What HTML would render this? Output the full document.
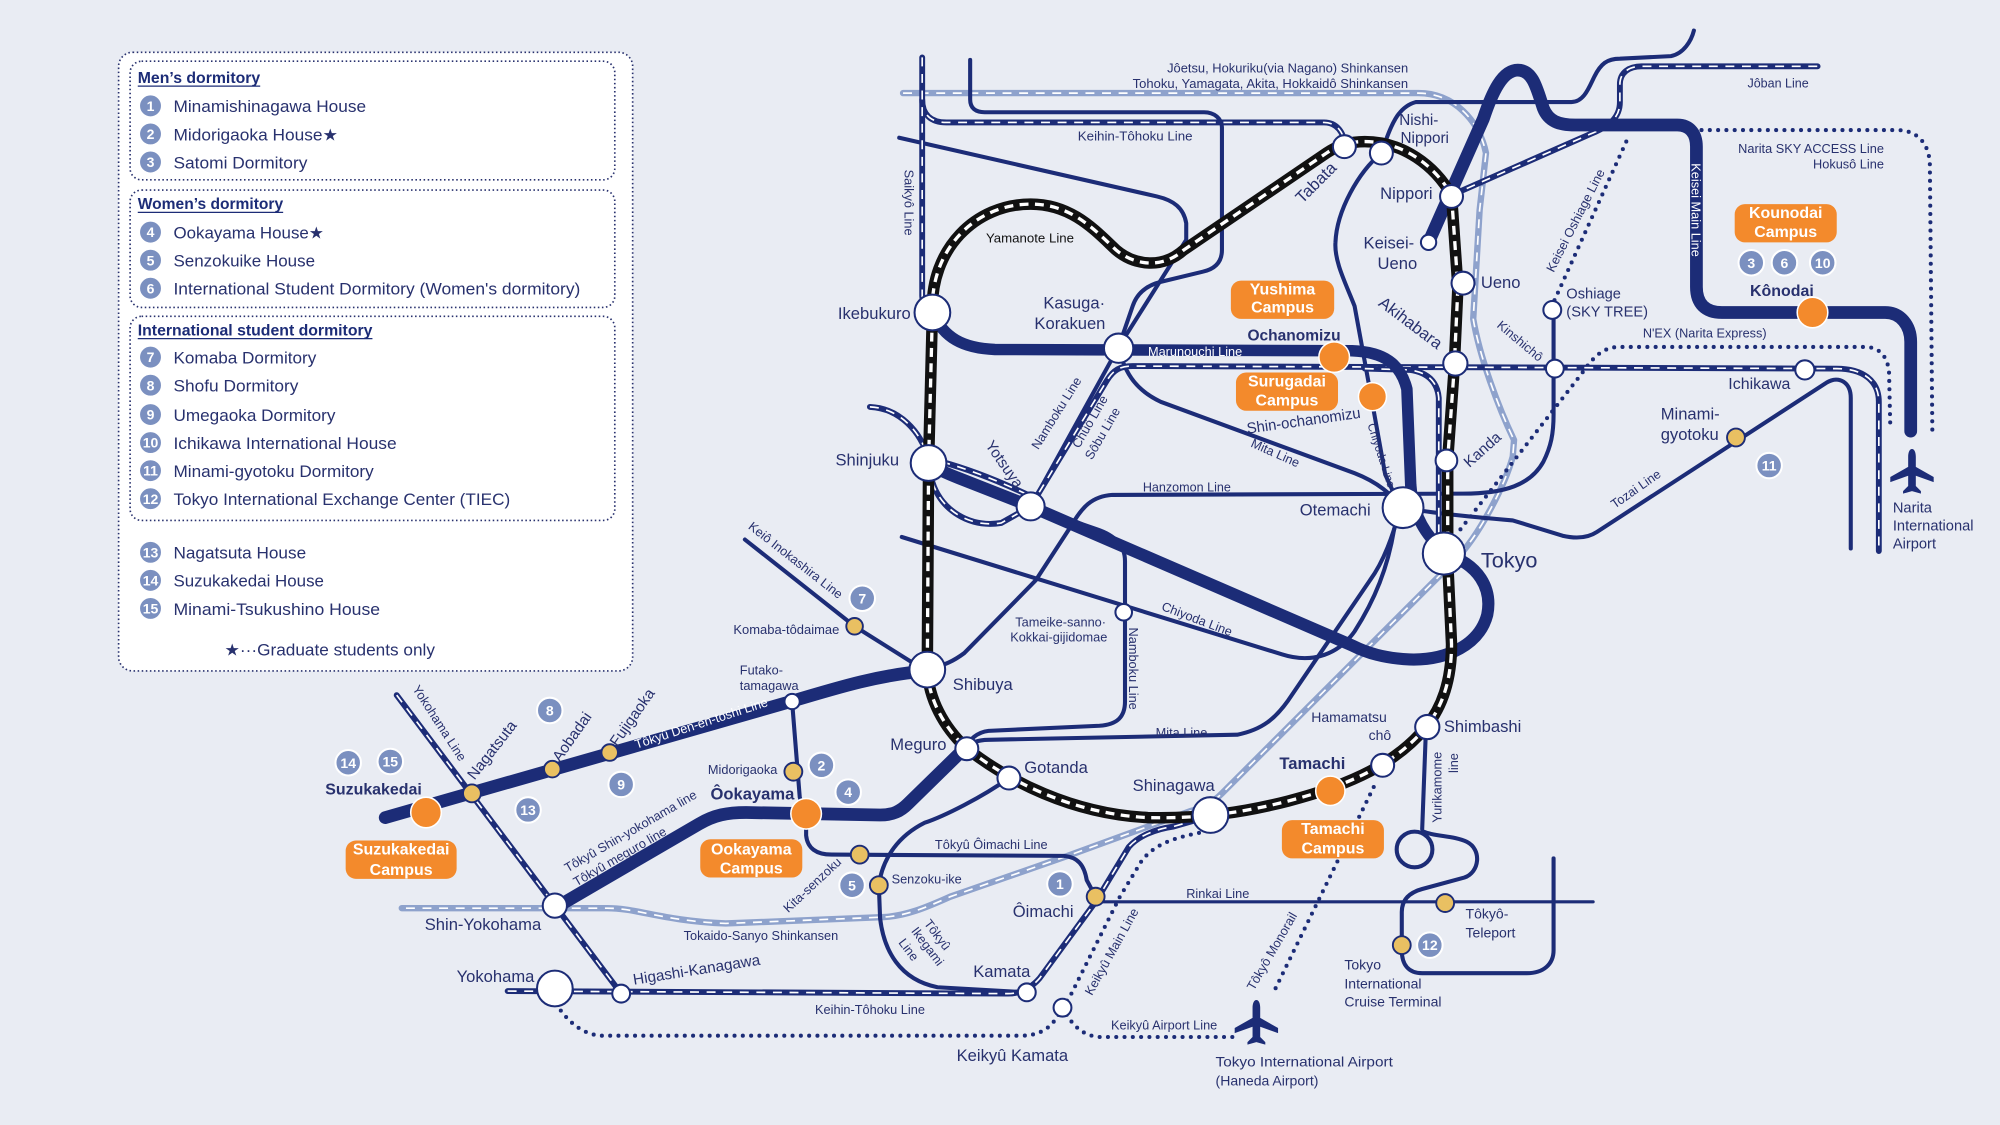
<!DOCTYPE html>
<html><head><meta charset="utf-8"><style>
html,body{margin:0;padding:0;background:#e9ecf3;}
svg{display:block;}
text{font-family:"Liberation Sans","DejaVu Sans",sans-serif;fill:#28316e;}
.l{fill:none;stroke:#1c2c77;stroke-width:3.2;stroke-linecap:round;stroke-linejoin:round;}
.t{fill:none;stroke:#1c2c77;stroke-width:10;stroke-linecap:round;stroke-linejoin:round;}
.dn{fill:none;stroke:#1c2c77;stroke-width:4.6;stroke-linecap:round;stroke-linejoin:round;}
.dw{fill:none;stroke:#fff;stroke-width:1.3;stroke-dasharray:7 6;}
.lb{fill:none;stroke:#8ea2cc;stroke-width:5;stroke-linecap:round;stroke-linejoin:round;}
.dot{fill:none;stroke:#1c2c77;stroke-width:3.2;stroke-linecap:round;stroke-dasharray:0 6.5;}
.st{fill:#fff;stroke:#1c2c77;stroke-width:1.6;}
.ye{fill:#e9c062;stroke:#1c2c77;stroke-width:1.5;}
.or{fill:#f38a2c;stroke:#fff;stroke-width:1.2;}
.nc{fill:#7b90c0;stroke:#fff;stroke-width:1.6;}
.nt{fill:#fff;font-weight:bold;font-size:11px;text-anchor:middle;}
.cb{fill:#f38a2c;}
.ct{fill:#fff;font-weight:bold;font-size:12.5px;text-anchor:middle;}
.s10{font-size:10px;}
.s11{font-size:11px;}
.s12{font-size:12px;}
.s13{font-size:13px;}
.b{font-weight:bold;}
.lg{font-size:13px;}
</style></head><body>
<svg xmlns="http://www.w3.org/2000/svg" width="2000" height="1125" viewBox="0 0 1568 882">
<rect width="1568" height="882" fill="#e9ecf3"/>

<!-- ===== LEGEND ===== -->
<rect x="93" y="41" width="403" height="485" rx="11" fill="#fff" stroke="#28316e" stroke-width="1.3" stroke-dasharray="1.2 2"/>
<rect x="102" y="48" width="380" height="93" rx="9" fill="#fff" stroke="#28316e" stroke-width="1.3" stroke-dasharray="1.2 2"/>
<rect x="102" y="149" width="380" height="92" rx="9" fill="#fff" stroke="#28316e" stroke-width="1.3" stroke-dasharray="1.2 2"/>
<rect x="102" y="248" width="380" height="160" rx="9" fill="#fff" stroke="#28316e" stroke-width="1.3" stroke-dasharray="1.2 2"/>

<text x="108" y="65" class="b" font-size="12.5" textLength="96" lengthAdjust="spacingAndGlyphs" style="fill:#1c2c77">Men’s dormitory</text>
<line x1="108" y1="67.5" x2="204" y2="67.5" stroke="#1c2c77" stroke-width="1"/>
<text x="108" y="164" class="b" font-size="12.5" textLength="114" lengthAdjust="spacingAndGlyphs" style="fill:#1c2c77">Women’s dormitory</text>
<line x1="108" y1="166.5" x2="222" y2="166.5" stroke="#1c2c77" stroke-width="1"/>
<text x="108" y="263" class="b" font-size="12.5" textLength="184" lengthAdjust="spacingAndGlyphs" style="fill:#1c2c77">International student dormitory</text>
<line x1="108" y1="265.5" x2="292" y2="265.5" stroke="#1c2c77" stroke-width="1"/>

<g>
<circle cx="118" cy="83" r="9" class="nc"/><text x="118" y="87" class="nt">1</text>
<text x="136" y="88" class="lg" textLength="151" lengthAdjust="spacingAndGlyphs">Minamishinagawa House</text>
<circle cx="118" cy="105" r="9" class="nc"/><text x="118" y="109" class="nt">2</text>
<text x="136" y="110" class="lg" textLength="129" lengthAdjust="spacingAndGlyphs">Midorigaoka House★</text>
<circle cx="118" cy="127" r="9" class="nc"/><text x="118" y="131" class="nt">3</text>
<text x="136" y="132" class="lg" textLength="105" lengthAdjust="spacingAndGlyphs">Satomi Dormitory</text>
<circle cx="118" cy="182" r="9" class="nc"/><text x="118" y="186" class="nt">4</text>
<text x="136" y="187" class="lg" textLength="118" lengthAdjust="spacingAndGlyphs">Ookayama House★</text>
<circle cx="118" cy="204" r="9" class="nc"/><text x="118" y="208" class="nt">5</text>
<text x="136" y="209" class="lg" textLength="111" lengthAdjust="spacingAndGlyphs">Senzokuike House</text>
<circle cx="118" cy="226" r="9" class="nc"/><text x="118" y="230" class="nt">6</text>
<text x="136" y="231" class="lg" textLength="319" lengthAdjust="spacingAndGlyphs">International Student Dormitory (Women's dormitory)</text>
<circle cx="118" cy="280" r="9" class="nc"/><text x="118" y="284" class="nt">7</text>
<text x="136" y="285" class="lg" textLength="112" lengthAdjust="spacingAndGlyphs">Komaba Dormitory</text>
<circle cx="118" cy="302" r="9" class="nc"/><text x="118" y="306" class="nt">8</text>
<text x="136" y="307" class="lg" textLength="98" lengthAdjust="spacingAndGlyphs">Shofu Dormitory</text>
<circle cx="118" cy="325" r="9" class="nc"/><text x="118" y="329" class="nt">9</text>
<text x="136" y="330" class="lg" textLength="127" lengthAdjust="spacingAndGlyphs">Umegaoka Dormitory</text>
<circle cx="118" cy="347" r="9" class="nc"/><text x="118" y="351" class="nt" font-size="10.5">10</text>
<text x="136" y="352" class="lg" textLength="175" lengthAdjust="spacingAndGlyphs">Ichikawa International House</text>
<circle cx="118" cy="369" r="9" class="nc"/><text x="118" y="373" class="nt" font-size="10.5">11</text>
<text x="136" y="374" class="lg" textLength="157" lengthAdjust="spacingAndGlyphs">Minami-gyotoku Dormitory</text>
<circle cx="118" cy="391" r="9" class="nc"/><text x="118" y="395" class="nt" font-size="10.5">12</text>
<text x="136" y="396" class="lg" textLength="264" lengthAdjust="spacingAndGlyphs">Tokyo International Exchange Center (TIEC)</text>
<circle cx="118" cy="433" r="9" class="nc"/><text x="118" y="437" class="nt" font-size="10.5">13</text>
<text x="136" y="438" class="lg" textLength="104" lengthAdjust="spacingAndGlyphs">Nagatsuta House</text>
<circle cx="118" cy="455" r="9" class="nc"/><text x="118" y="459" class="nt" font-size="10.5">14</text>
<text x="136" y="460" class="lg" textLength="118" lengthAdjust="spacingAndGlyphs">Suzukakedai House</text>
<circle cx="118" cy="477" r="9" class="nc"/><text x="118" y="481" class="nt" font-size="10.5">15</text>
<text x="136" y="482" class="lg" textLength="162" lengthAdjust="spacingAndGlyphs">Minami-Tsukushino House</text>
<text x="176" y="514" class="lg" textLength="165" lengthAdjust="spacingAndGlyphs">★···Graduate students only</text>
</g>

<!-- ===== LIGHT BLUE SHINKANSEN ===== -->
<path class="lb" d="M708,73 L1112,73 C1140,73 1160,95 1165,120 L1160,165 L1155,250 C1160,280 1175,320 1187,345 L1186,358 C1180,380 1160,420 1140,440 L958,622 C952,628 945,633 933,636 L837,671 L745,703 C725,712 710,718 693,719 L569,724 C520,722 500,712 476,712 L315,712"/>
<path class="dw" d="M708,73 L1112,73 C1140,73 1160,95 1165,120 L1160,165 L1155,250 C1160,280 1175,320 1187,345 L1186,358 C1180,380 1160,420 1140,440 L958,622 C952,628 945,633 933,636 L837,671 L745,703 C725,712 710,718 693,719 L569,724 C520,722 500,712 476,712 L315,712"/>

<!-- ===== THIN SINGLE LINES ===== -->
<path class="l" d="M760.6,47 L760.6,78 C760.6,85 765,88 772,88 L944,88 C952,88 958,93 958,100 L958,196 C958,206 952,211 943,213 L910,221 C898,224 891,231 888,240 L877,272"/>
<path class="l" d="M705,108 L907,154 C920,157 928,163 930,175 L930,188 L877,272"/>
<path class="l" d="M877,272 L808,397"/>
<path class="l" d="M808,397 L860,415 C875,420 882,428 882,440 L882,550 C882,562 876,568 862,569 L775,573 C766,574 760,580 757,586"/>
<path class="l" d="M877,272 C882,295 893,307 910,315 L1062,371 C1080,378 1092,388 1098,398 C1092,420 1085,440 1074,455 L1010,549 C1000,563 990,572 970,576 L775,580 C766,580 760,583 757,586"/>
<path class="l" d="M707,421 L1005,513 C1030,521 1050,512 1062,495 C1078,470 1088,445 1093,415 L1098,398 L1086,372 L1075,311 L1062,240 C1055,222 1046,205 1047,190 C1048,165 1065,135 1083,120 C1090,100 1095,84 1110,80 L1232,80 C1242,80 1246,68 1250,60 C1255,50 1260,46 1270,46 L1310,44 C1320,42 1326,32 1328,24"/>
<path class="l" d="M727,525 C740,522 748,518 756,512 L812,455 L840,412 C848,398 856,389 872,388 L1147,387 C1180,387 1200,380 1210,362 C1216,350 1218,340 1218,325 L1218,244"/>
<path class="l" d="M1100,398 C1120,402 1150,405 1186,408 L1225,420 C1238,423 1246,421 1252,417 L1432,300 C1442,294 1451,300 1451,312 L1451,430"/>
<path class="l" d="M584,423 L670,491 L721,523"/>
<path class="l" d="M791,610 C770,625 740,640 725,645 C705,655 692,672 689,694 L690,720 C693,745 705,768 735,774 L805,778"/>
<path class="l" d="M621,550 L627,625 C629,632 632,636 632,645 L632,655 C633,665 640,670 652,670 L834,671 C845,672 850,678 852,690 L859,703"/>
<path class="l" style="stroke-width:2.5" d="M859,707 L1249,707"/>
<path class="l" d="M1118,570 L1115,650"/>
<circle cx="1109" cy="666" r="14" class="l"/>
<path class="l" d="M1116,652 C1125,656 1140,655 1150,660 C1162,666 1160,684 1148,688 L1115,697 C1104,700 1099,706 1099,715 L1099,745 C1099,756 1104,763 1115,763 L1197,763 C1210,763 1218,756 1218,745 L1218,673"/>

<!-- ===== DOTTED ===== -->
<path class="dot" d="M1275,111 L1218,237"/>
<path class="dot" d="M1145,415 L1240,293 C1248,282 1255,272 1270,272 L1462,272 C1474,272 1480,280 1481,292 L1482,335"/>
<path class="dot" d="M1334,102 L1487,102 C1503,102 1512,112 1513,128 L1515,343"/>
<path class="dot" d="M940,653 C920,657 905,662 895,675 L878,703 L840,779 L833,790 C840,803 848,812 862,813 L968,813"/>
<path class="dot" d="M833,790 C826,804 818,812 800,812 L470,812 C455,810 445,800 438,790"/>
<path class="dot" d="M1077,617 L998,779"/>

<!-- ===== DOUBLE (JR) LINES ===== -->
<g>
<path class="dn" d="M723,78 C723,90 730,96 742,96 L1038,96 C1048,96 1054,104 1054,114"/>
<path class="dw" d="M723,78 C723,90 730,96 742,96 L1038,96 C1048,96 1054,104 1054,114"/>
<path class="dn" d="M723,45 L723,232 C723,238 727,243 731,245"/>
<path class="dw" d="M723,45 L723,232 C723,238 727,243 731,245"/>
<path class="dn" d="M398,777 L790,779 C800,779 808,775 815,767 L859,707 L885,664 C892,656 905,650 920,648 L948,640"/>
<path class="dw" d="M398,777 L790,779 C800,779 808,775 815,767 L859,707 L885,664 C892,656 905,650 920,648 L948,640"/>
<path class="dn" d="M311,545 L487,779"/>
<path class="dw" d="M311,545 L487,779"/>
<path class="dn" d="M808,397 L868,298 C873,290 878,287 888,287 L1440,289 C1460,289 1473,298 1473,315 L1473,432"/>
<path class="dw" d="M808,397 L868,298 C873,290 878,287 888,287 L1440,289 C1460,289 1473,298 1473,315 L1473,432"/>
<path class="dn" d="M682,319 C705,320 722,338 728,360"/>
<path class="dw" d="M682,319 C705,320 722,338 728,360"/>
<path class="dn" d="M731,378 C738,400 760,414 785,410 L808,397"/>
<path class="dw" d="M731,378 C738,400 760,414 785,410 L808,397"/>
<path class="dn" d="M738,362 C760,368 785,378 806,388"/>
<path class="dw" d="M738,362 C760,368 785,378 806,388"/>
<path class="dn" d="M1070,289 L1105,290 C1120,292 1127,300 1128,312 L1128,420"/>
<path class="dw" d="M1070,289 L1105,290 C1120,292 1127,300 1128,312 L1128,420"/>
<path class="dn" d="M1138,153 L1247,105 C1262,99 1270,92 1270,80 L1270,66 C1270,57 1277,52 1287,52 L1425,52"/>
<path class="dw" d="M1138,153 L1247,105 C1262,99 1270,92 1270,80 L1270,66 C1270,57 1277,52 1287,52 L1425,52"/>
</g>

<!-- ===== THICK LINES ===== -->
<path class="t" d="M1120,190 L1163,93 C1170,72 1178,55 1190,55 C1202,55 1205,70 1210,85 C1214,95 1222,98 1235,98 L1315,98 C1325,98 1330,105 1330,115 L1330,225 C1330,238 1337,245 1350,245 L1478,245 C1490,245 1498,255 1498,268 L1498,338"/>
<path class="t" style="stroke-width:9" d="M731,245 C740,265 755,273 780,274 L1060,275 C1085,276 1098,285 1103,305 L1106,380 C1107,395 1112,410 1122,422 L1132,434"/>
<path class="t" style="stroke-width:9.5" d="M1132,434 C1160,442 1170,462 1166,482 C1160,505 1135,518 1105,517 C1085,516 1072,512 1060,506 L808,397 L752,375 C742,371 735,368 728,363"/>
<path class="t" d="M302,641 L620,550 C660,538 690,529 727,526"/>
<path class="t" d="M440,709 L548,646 C560,639 570,637 585,637 L690,639 C700,639 706,636 712,630 L757,586"/>

<!-- ===== YAMANOTE ===== -->
<path d="M731,245 C729,195 765,160 808,160 C840,160 858,180 875,196 C888,207 910,212 928,196 L1040,120 C1050,113 1060,111 1070,111 C1100,111 1125,130 1138,153 L1143,225 L1140,290 L1135,360 L1135,440 L1138,505 C1138,535 1130,555 1118,570 C1095,598 1060,615 1010,628 C975,637 940,642 900,641 C840,638 790,612 757,586 C740,570 728,548 727,525 L728,363 Z" fill="none" stroke="#111" stroke-width="9" stroke-linejoin="round"/>
<path d="M731,245 C729,195 765,160 808,160 C840,160 858,180 875,196 C888,207 910,212 928,196 L1040,120 C1050,113 1060,111 1070,111 C1100,111 1125,130 1138,153 L1143,225 L1140,290 L1135,360 L1135,440 L1138,505 C1138,535 1130,555 1118,570 C1095,598 1060,615 1010,628 C975,637 940,642 900,641 C840,638 790,612 757,586 C740,570 728,548 727,525 L728,363 Z" fill="none" stroke="#fff" stroke-width="2.6" stroke-dasharray="7 5"/>

<!-- line labels on lines -->
<text x="900" y="279" class="s10" style="fill:#fff">Marunouchi Line</text>
<text transform="translate(499,587) rotate(-18)" class="s10" style="fill:#fff">Tôkyû Den-en-toshi Line</text>
<text transform="translate(1326,128) rotate(90)" class="s10" style="fill:#fff">Keisei Main Line</text>

<!-- ===== STATIONS ===== -->
<g>
<circle cx="731" cy="245" r="14" class="st"/>
<circle cx="728" cy="363" r="14" class="st"/>
<circle cx="727" cy="525" r="14" class="st"/>
<circle cx="1100" cy="398" r="16" class="st"/>
<circle cx="1132" cy="434" r="16.5" class="st"/>
<circle cx="949" cy="639" r="14" class="st"/>
<circle cx="435" cy="775" r="14" class="st"/>
<circle cx="877" cy="273" r="11.5" class="st"/>
<circle cx="808" cy="397" r="11" class="st"/>
<circle cx="758" cy="587" r="9" class="st"/>
<circle cx="791" cy="610" r="9" class="st"/>
<circle cx="435" cy="710" r="9.5" class="st"/>
<circle cx="1084" cy="600" r="9" class="st"/>
<circle cx="1119" cy="570" r="9.5" class="st"/>
<circle cx="1141" cy="285" r="9.5" class="st"/>
<circle cx="1147" cy="222" r="9" class="st"/>
<circle cx="1134" cy="361" r="8.5" class="st"/>
<circle cx="1138" cy="154" r="9" class="st"/>
<circle cx="1054" cy="115" r="9" class="st"/>
<circle cx="1083" cy="120" r="9" class="st"/>
<circle cx="1120" cy="190" r="6" class="st"/>
<circle cx="1217" cy="243" r="7" class="st"/>
<circle cx="1219" cy="289" r="7" class="st"/>
<circle cx="1415" cy="290" r="7.5" class="st"/>
<circle cx="621" cy="550" r="6" class="st"/>
<circle cx="881" cy="480" r="6.5" class="st"/>
<circle cx="487" cy="779" r="7" class="st"/>
<circle cx="805" cy="778" r="7" class="st"/>
<circle cx="833" cy="790" r="7" class="st"/>
</g>
<g>
<circle cx="670" cy="491" r="6.5" class="ye"/>
<circle cx="370" cy="622" r="7" class="ye"/>
<circle cx="433" cy="603" r="6.5" class="ye"/>
<circle cx="478" cy="590" r="6.5" class="ye"/>
<circle cx="622" cy="605" r="7" class="ye"/>
<circle cx="674" cy="670" r="7" class="ye"/>
<circle cx="689" cy="694" r="7" class="ye"/>
<circle cx="859" cy="703" r="7" class="ye"/>
<circle cx="1133" cy="708" r="7" class="ye"/>
<circle cx="1099" cy="741" r="7" class="ye"/>
<circle cx="1361" cy="343" r="7" class="ye"/>
</g>
<g>
<circle cx="1046" cy="280" r="12" class="or"/>
<circle cx="1076" cy="311" r="11" class="or"/>
<circle cx="1043" cy="620" r="11.5" class="or"/>
<circle cx="632" cy="638" r="12" class="or"/>
<circle cx="334" cy="637" r="12" class="or"/>
<circle cx="1421" cy="245" r="12" class="or"/>
</g>

<!-- number circles on map -->
<g>
<circle cx="831" cy="693" r="10" class="nc"/><text x="831" y="697" class="nt">1</text>
<circle cx="644" cy="600" r="10" class="nc"/><text x="644" y="604" class="nt">2</text>
<circle cx="665" cy="621" r="10" class="nc"/><text x="665" y="625" class="nt">4</text>
<circle cx="668" cy="694" r="10" class="nc"/><text x="668" y="698" class="nt">5</text>
<circle cx="676" cy="469" r="10" class="nc"/><text x="676" y="473" class="nt">7</text>
<circle cx="431" cy="557" r="10" class="nc"/><text x="431" y="561" class="nt">8</text>
<circle cx="487" cy="615" r="10" class="nc"/><text x="487" y="619" class="nt">9</text>
<circle cx="414" cy="635" r="10" class="nc"/><text x="414" y="639" class="nt">13</text>
<circle cx="273" cy="598" r="10" class="nc"/><text x="273" y="602" class="nt">14</text>
<circle cx="306" cy="597" r="10" class="nc"/><text x="306" y="601" class="nt">15</text>
<circle cx="1373" cy="206" r="10" class="nc"/><text x="1373" y="210" class="nt">3</text>
<circle cx="1399" cy="206" r="10" class="nc"/><text x="1399" y="210" class="nt">6</text>
<circle cx="1429" cy="206" r="10" class="nc"/><text x="1429" y="210" class="nt">10</text>
<circle cx="1387" cy="365" r="10" class="nc"/><text x="1387" y="369" class="nt">11</text>
<circle cx="1121" cy="741" r="10" class="nc"/><text x="1121" y="745" class="nt">12</text>
</g>

<!-- campus boxes -->
<g>
<rect x="965" y="220" width="81" height="30" rx="8" class="cb"/>
<text x="1005.5" y="231" class="ct">Yushima</text><text x="1005.5" y="245" class="ct">Campus</text>
<rect x="969" y="292" width="80" height="30" rx="8" class="cb"/>
<text x="1009" y="303" class="ct">Surugadai</text><text x="1009" y="318" class="ct">Campus</text>
<rect x="1360" y="160" width="80" height="30" rx="8" class="cb"/>
<text x="1400" y="171" class="ct">Kounodai</text><text x="1400" y="186" class="ct">Campus</text>
<rect x="1005" y="643" width="80" height="30" rx="8" class="cb"/>
<text x="1045" y="654" class="ct">Tamachi</text><text x="1045" y="669" class="ct">Campus</text>
<rect x="549" y="658" width="80" height="30" rx="8" class="cb"/>
<text x="589" y="670" class="ct">Ookayama</text><text x="589" y="685" class="ct">Campus</text>
<rect x="271" y="659" width="87" height="30" rx="8" class="cb"/>
<text x="314.5" y="670" class="ct">Suzukakedai</text><text x="314.5" y="686" class="ct">Campus</text>
</g>

<!-- airplanes -->
<path transform="translate(1499,370)" fill="#1c2c77" d="M0,-18 C2,-18 3,-15 3,-12 L3,-4 L17,4 L17,8 L3,3 L3,11 L7,15 L7,17 L0,15 L-7,17 L-7,15 L-3,11 L-3,3 L-17,8 L-17,4 L-3,-4 L-3,-12 C-3,-15 -2,-18 0,-18 Z"/>
<path transform="translate(985,802)" fill="#1c2c77" d="M0,-18 C2,-18 3,-15 3,-12 L3,-4 L17,4 L17,8 L3,3 L3,11 L7,15 L7,17 L0,15 L-7,17 L-7,15 L-3,11 L-3,3 L-17,8 L-17,4 L-3,-4 L-3,-12 C-3,-15 -2,-18 0,-18 Z"/>

<!-- ===== LABELS ===== -->
<g>
<text x="1104" y="57" class="s10" text-anchor="end" font-size="10.5" textLength="189" lengthAdjust="spacingAndGlyphs">Jôetsu, Hokuriku(via Nagano) Shinkansen</text>
<text x="1104" y="69" class="s10" text-anchor="end" font-size="10.5" textLength="216" lengthAdjust="spacingAndGlyphs">Tohoku, Yamagata, Akita, Hokkaidô Shinkansen</text>
<text x="1370" y="68.5" class="s10" textLength="48" lengthAdjust="spacingAndGlyphs">Jôban Line</text>
<text x="845" y="110" class="s10" textLength="90" lengthAdjust="spacingAndGlyphs">Keihin-Tôhoku Line</text>
<text transform="translate(709,133) rotate(90)" class="s10">Saikyô Line</text>
<text x="773" y="190" class="s10" style="fill:#111" textLength="69" lengthAdjust="spacingAndGlyphs">Yamanote Line</text>
<text x="1097" y="98" class="s12">Nishi-</text>
<text x="1098" y="112" class="s12">Nippori</text>
<text x="1082" y="156" class="s13">Nippori</text>
<text transform="translate(1021,160) rotate(-45)" class="s13">Tabata</text>
<text x="1069" y="195" class="s13">Keisei-</text>
<text x="1080" y="211" class="s13">Ueno</text>
<text x="1161" y="226" class="s13">Ueno</text>
<text x="714" y="250" class="s13" text-anchor="end">Ikebukuro</text>
<text x="818" y="242" class="s13">Kasuga·</text>
<text x="811" y="258" class="s13">Korakuen</text>
<text x="978" y="267" class="b" font-size="12.5" textLength="73" lengthAdjust="spacingAndGlyphs">Ochanomizu</text>
<text transform="translate(978,340) rotate(-8)" class="s12" textLength="90" lengthAdjust="spacingAndGlyphs">Shin-ochanomizu</text>
<text transform="translate(1080,239) rotate(37)" class="s13">Akihabara</text>
<text transform="translate(1173,256) rotate(40)" class="s10">Kinshichô</text>
<text transform="translate(1218,214) rotate(-63)" class="s10">Keisei Oshiage Line</text>
<text x="1228" y="234" font-size="11.5">Oshiage</text>
<text x="1228" y="248" font-size="11.5">(SKY TREE)</text>
<text x="1288" y="264.5" class="s10" textLength="97" lengthAdjust="spacingAndGlyphs">N'EX (Narita Express)</text>
<text x="1355" y="305" font-size="12.5">Ichikawa</text>
<text x="1477" y="120" class="s10" text-anchor="end">Narita SKY ACCESS Line</text>
<text x="1477" y="132" class="s10" text-anchor="end">Hokusô Line</text>
<text x="1372" y="232" class="b" font-size="12.5">Kônodai</text>
<text x="1302" y="329" class="s13">Minami-</text>
<text x="1302" y="345" class="s13">gyotoku</text>
<text transform="translate(1266,399) rotate(-35)" class="s10">Tozai Line</text>
<text x="1484" y="402" font-size="11.5">Narita</text>
<text x="1484" y="416" font-size="11.5">International</text>
<text x="1484" y="430" font-size="11.5">Airport</text>
<text x="655" y="365" class="s13">Shinjuku</text>
<text transform="translate(772,349) rotate(55)" class="s12">Yotsuya</text>
<text transform="translate(814,353) rotate(-58)" class="s10">Namboku Line</text>
<text transform="translate(846,352) rotate(-60)" class="s10">Chûô Line</text>
<text transform="translate(856,361) rotate(-60)" class="s10">Sôbu Line</text>
<text transform="translate(980,350) rotate(24)" class="s10">Mita Line</text>
<text transform="translate(1072,333) rotate(72)" font-size="9">Chiyoda Line</text>
<text transform="translate(1152,367) rotate(-42)" class="s12">Kanda</text>
<text x="896" y="385.5" class="s10" textLength="69" lengthAdjust="spacingAndGlyphs">Hanzomon Line</text>
<text x="1019" y="404" class="s13">Otemachi</text>
<text x="1161" y="445" font-size="17">Tokyo</text>
<text transform="translate(586,414) rotate(38)" class="s10">Keiô Inokashira Line</text>
<text x="575" y="497" class="s10" textLength="83" lengthAdjust="spacingAndGlyphs">Komaba-tôdaimae</text>
<text x="796" y="491" class="s10">Tameike-sanno·</text>
<text x="792" y="503" class="s10">Kokkai-gijidomae</text>
<text transform="translate(885,492) rotate(90)" class="s10">Namboku Line</text>
<text transform="translate(910,478) rotate(21)" class="s10">Chiyoda Line</text>
<text x="747" y="541" class="s13">Shibuya</text>
<text x="580" y="529" class="s10">Futako-</text>
<text x="580" y="541" class="s10">tamagawa</text>
<text x="906" y="578" class="s10">Mita Line</text>
<text x="698" y="588" class="s13">Meguro</text>
<text x="803" y="606" class="s13">Gotanda</text>
<text x="888" y="620" class="s13">Shinagawa</text>
<text x="1028" y="566" class="s11">Hamamatsu</text>
<text x="1073" y="580" class="s11">chô</text>
<text x="1132" y="574" class="s13">Shimbashi</text>
<text x="1003" y="603" class="b s13">Tamachi</text>
<text transform="translate(1130,645) rotate(-90)" class="s10">Yurikamome</text>
<text transform="translate(1143,606) rotate(-90)" class="s10">line</text>
<text x="733" y="665.5" class="s10">Tôkyû Ôimachi Line</text>
<text x="930" y="704" class="s10">Rinkai Line</text>
<text x="1149" y="720" class="s11">Tôkyô-</text>
<text x="1149" y="735" class="s11">Teleport</text>
<text x="1054" y="760" class="s11">Tokyo</text>
<text x="1054" y="775" class="s11">International</text>
<text x="1054" y="789" class="s11">Cruise Terminal</text>
<text transform="translate(983,777) rotate(-60)" class="s10">Tôkyô Monorail</text>
<text x="953" y="836" class="s11" textLength="139" lengthAdjust="spacingAndGlyphs">Tokyo International Airport</text>
<text x="953" y="851" class="s11">(Haneda Airport)</text>
<text x="871" y="807" class="s10">Keikyû Airport Line</text>
<text x="750" y="832" class="s13">Keikyû Kamata</text>
<text transform="translate(856,781) rotate(-61)" class="s10">Keikyû Main Line</text>
<text x="763" y="766" class="s13">Kamata</text>
<text x="639" y="795" class="s10">Keihin-Tôhoku Line</text>
<text x="794" y="719" class="s13">Ôimachi</text>
<text x="699" y="692.5" class="s10">Senzoku-ike</text>
<text transform="translate(724,724) rotate(53)" class="s10">Tôkyû</text>
<text transform="translate(714,730) rotate(53)" class="s10">Ikegami</text>
<text transform="translate(704,739) rotate(53)" class="s10">Line</text>
<text transform="translate(618,716) rotate(-43)" class="s10">Kita-senzoku</text>
<text x="536" y="737" class="s10">Tokaido-Sanyo Shinkansen</text>
<text x="557" y="627" class="b s13">Ôokayama</text>
<text x="555" y="607" class="s10">Midorigaoka</text>
<text x="333" y="729" class="s13">Shin-Yokohama</text>
<text x="358" y="770" class="s13">Yokohama</text>
<text transform="translate(497,772) rotate(-9)" class="s12">Higashi-Kanagawa</text>
<text x="255" y="623" class="b" font-size="12.5">Suzukakedai</text>
<text transform="translate(323,540) rotate(57)" class="s10">Yokohama Line</text>
<text transform="translate(372,612) rotate(-52)" class="s12">Nagatsuta</text>
<text transform="translate(439,598) rotate(-55)" class="s12">Aobadai</text>
<text transform="translate(484,586) rotate(-55)" class="s12">Fujigaoka</text>
<text transform="translate(445,684) rotate(-30)" class="s10">Tôkyû Shin-yokohama line</text>
<text transform="translate(452,695) rotate(-30)" class="s10">Tôkyû meguro line</text>
</g>
</svg>
</body></html>
